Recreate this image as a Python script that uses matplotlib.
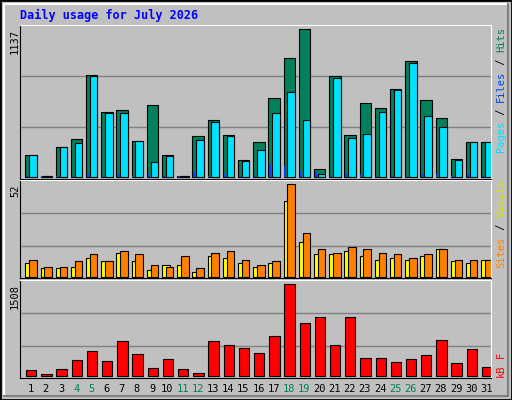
import matplotlib
matplotlib.use("Agg")
import matplotlib.pyplot as plt
from matplotlib.patches import Rectangle
import numpy as np

days = list(range(1, 32))
weekend = [4, 5, 11, 12, 18, 19, 25, 26]
hits = [172, 8, 229, 296, 782, 504, 512, 280, 558, 172, 8, 319, 442, 327, 134, 273,
        605, 913, 1137, 64, 774, 327, 566, 535, 674, 890, 589, 458, 141, 273, 273]
files = [172, 8, 229, 265, 774, 496, 496, 280, 118, 165, 8, 288, 427, 319, 126, 211,
         496, 651, 435, 26, 759, 304, 334, 504, 666, 875, 466, 388, 134, 273, 273]
pages = [8, 4, 8, 8, 26, 8, 26, 8, 26, 8, 4, 36, 8, 26, 8, 8,
         103, 87, 44, 41, 8, 26, 26, 8, 8, 8, 26, 26, 8, 26, 8]
sites = [7.5, 4.7, 4.7, 5.3, 10.3, 8.6, 13.1, 8.6, 3.6, 6.4, 6.4, 2.4, 11.5, 10.3, 7.5, 5.3,
         7.5, 42.4, 19.3, 12.6, 12.6, 14.3, 11.5, 9.2, 10.3, 9.2, 11.5, 15.4, 8.6, 7.5, 9.2]
visits = [9.2, 5.3, 5.3, 8.6, 12.6, 8.6, 14.3, 12.6, 6.4, 5.3, 11.5, 4.7, 13.1, 14.3, 9.2, 6.4,
          8.6, 52, 24.4, 15.4, 13.1, 16.5, 15.4, 13.1, 12.6, 10.3, 12.6, 15.4, 9.2, 9.2, 9.2]
kbytes = [88, 22, 105, 253, 402, 237, 567, 352, 121, 270, 105, 39, 567, 501, 451, 369,
          649, 1508, 864, 963, 501, 963, 286, 286, 220, 270, 336, 583, 204, 435, 138]

W, H = 512, 400
BG = '#c0c0c0'
fig = plt.figure(figsize=(W / 100, H / 100), dpi=100, facecolor=BG)
MONO = 'DejaVu Sans Mono'

def px_axes(x0, y0, x1, y1):
    return fig.add_axes([x0 / W, 1 - y1 / H, (x1 - x0) / W, (y1 - y0) / H])

# outer bevel
fig.patches.append(Rectangle((0, 0), 1, 1, transform=fig.transFigure, fill=False,
                             edgecolor='black', lw=2))
fig.add_artist(plt.Line2D([4 / W, 4 / W, 1 - 4 / W], [4 / H, 1 - 4 / H, 1 - 4 / H],
                          transform=fig.transFigure, color='white', lw=1.5))
fig.add_artist(plt.Line2D([4 / W, 1 - 4 / W, 1 - 4 / W], [4 / H, 4 / H, 1 - 4 / H],
                          transform=fig.transFigure, color='#808080', lw=1.5))

X0, X1 = 20, 491
panels = [
    # (top, bottom, baseline, ytop_px, maxval, grid px)
    (25, 179, 177, 29.3, 1137, (76.3, 127.3)),
    (180, 278, 276.7, 184.3, 52, (213.3, 246.3)),
    (280, 378, 375.7, 284.3, 1508, (313.3, 346)),
]

axes = []
for top, bot, base, ytop, vmax, grid in panels:
    ax = px_axes(X0, top, X1, bot)
    scale = vmax / (base - ytop)
    ax.set_ylim(-(bot - base) * scale, (base - top) * scale)
    ax.set_xlim(0, 31)
    ax.set_facecolor(BG)
    for g in grid:
        ax.axhline((base - g) * scale, color='#808080', lw=1, zorder=0)
    ax.set_xticks([])
    ax.set_yticks([])
    for s in ['top', 'right']:
        ax.spines[s].set_color('white')
    for s in ['left', 'bottom']:
        ax.spines[s].set_color('black')
    axes.append(ax)

x = np.arange(31)
kw = dict(align='edge', edgecolor='black', linewidth=0.8)
ax1, ax2, ax3 = axes
ax1.bar(x + 0.35, hits, 0.75, color='#00805c', **kw)
ax1.bar(x + 0.6, files, 0.5, color='#00e0ff', **kw)
ax1.bar(x + 0.4, pages, 0.12, color='#0040ff', align='edge', linewidth=0)
ax2.bar(x + 0.35, sites, 0.5, color='#ffff00', **kw)
ax2.bar(x + 0.6, visits, 0.5, color='#ff8000', **kw)
ax3.bar(x + 0.4, kbytes, 0.68, color='#ff0000', **kw)

# labels
fig.text(20 / W, 1 - 15 / H, 'Daily usage for July 2026', color='#0000ff',
         family=MONO, weight='bold', fontsize=8.5, va='center')
for (top, bot, base, ytop, vmax, grid) in panels:
    fig.text(15 / W, 1 - ytop / H, str(vmax), rotation=90, family=MONO, fontsize=7.5,
             ha='center', va='top')

renderer = fig.canvas.get_renderer()

def right_label(y_px, parts):
    # stacked from the top down; rotated text reads bottom to top
    y = y_px
    for txt, col in parts:
        t = fig.text(501 / W, 1 - y / H, txt, rotation=90, family=MONO,
                     fontsize=7.5, color=col, ha='center', va='top')
        y += t.get_window_extent(renderer).height

right_label(27, [('Hits', '#00805c'), (' / ', '#000000'), ('Files', '#0040ff'),
                 (' / ', '#000000'), ('Pages', '#00e0ff')])
right_label(180, [('Visits', '#e0e000'), (' / ', '#000000'), ('Sites', '#ff8000')])
right_label(352, [('F', '#ff0000'), (' ', '#000000'), ('kB', '#ff0000')])

for d in days:
    xp = X0 + (d - 0.5) * (X1 - X0) / 31 + 3
    fig.text(xp / W, 1 - 389 / H, str(d), family=MONO, fontsize=7.5, ha='center',
             va='center', color='#00805c' if d in weekend else 'black')

fig.savefig('out.png', dpi=100, facecolor=BG)
